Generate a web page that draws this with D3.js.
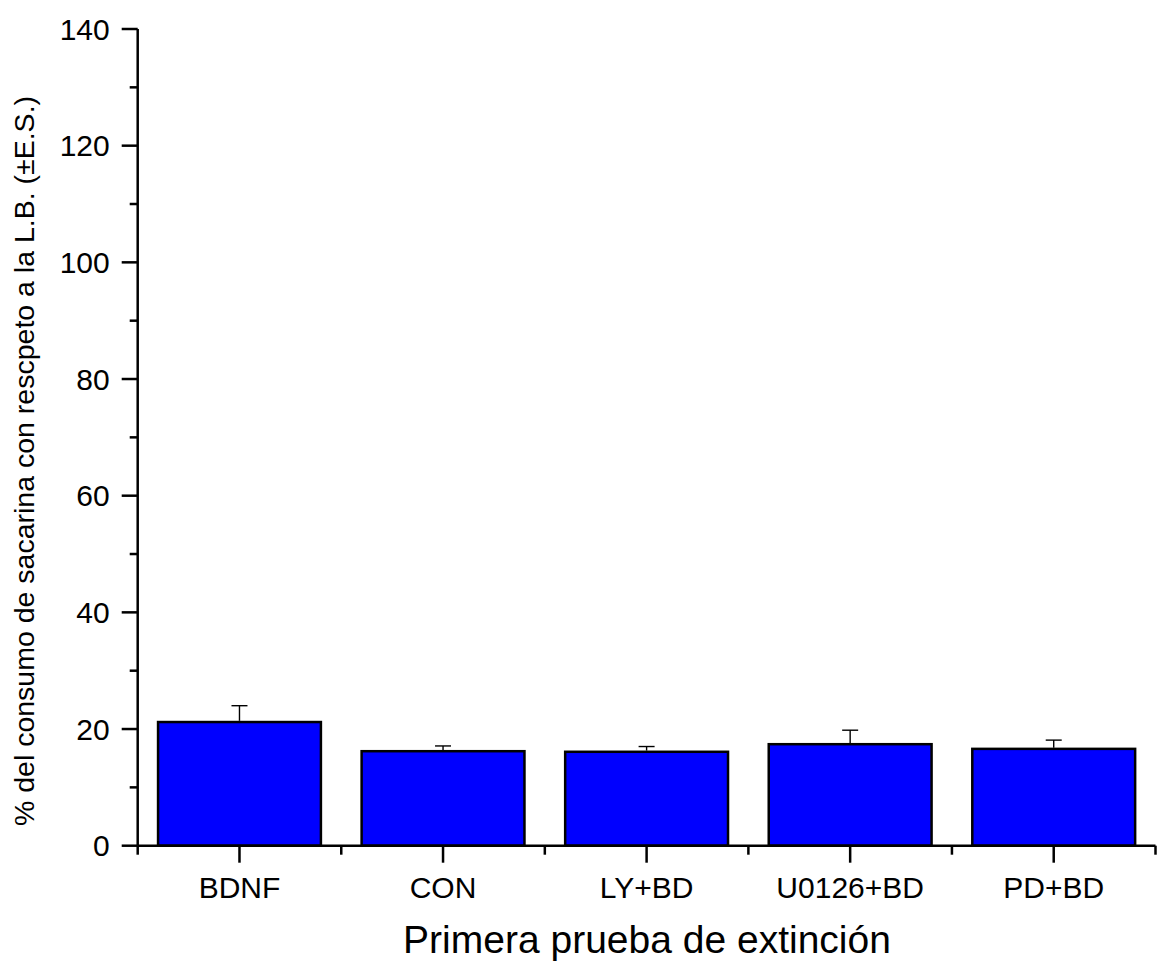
<!DOCTYPE html>
<html>
<head>
<meta charset="utf-8">
<script src="https://cdn.jsdelivr.net/npm/d3@7"></script>
<style>
  html, body { margin: 0; padding: 0; background: #fff; }
  svg { display: block; }
  text { font-family: "Liberation Sans", Arial, sans-serif; fill: #000; }
</style>
</head>
<body>
<svg id="chart" width="1157" height="970"></svg>
<script>
// Groups and their mean consumption (% of baseline) with standard errors
const groups = ["BDNF", "CON", "LY+BD", "U0126+BD", "PD+BD"];
const means  = [21.2, 16.2, 16.1, 17.4, 16.6];
const errors = [2.8, 0.9, 0.9, 2.4, 1.5];
const yTicks = [0, 20, 40, 60, 80, 100, 120, 140];
const yMinorTicks = [10, 30, 50, 70, 90, 110, 130];

const xTitle = "Primera prueba de extinción";
const yTitle = "% del consumo de sacarina con rescpeto a la L.B. (±E.S.)";

const svg = d3.select("#chart");
const plotLeft = 137.7, plotRight = 1155.5, plotTop = 29, plotBottom = 845.7;

const x = d3.scaleBand().domain(groups).range([plotLeft, plotRight])
  .paddingInner(0.2).paddingOuter(0.1);
const y = d3.scaleLinear().domain([0, 140]).range([plotBottom, plotTop]);

// Bars
svg.append("g").selectAll("rect")
  .data(groups)
  .join("rect")
  .attr("x", d => x(d))
  .attr("y", (d, i) => y(means[i]))
  .attr("width", x.bandwidth())
  .attr("height", (d, i) => y(0) - y(means[i]))
  .attr("fill", "#0000ff")
  .attr("stroke", "#000")
  .attr("stroke-width", 2.5);

// Upper error bars
const eb = svg.append("g").attr("stroke", "#000").attr("stroke-width", 1.4);
groups.forEach((g, i) => {
  const cx = x(g) + x.bandwidth() / 2;
  eb.append("line")
    .attr("x1", cx).attr("x2", cx)
    .attr("y1", y(means[i]) - 1.2).attr("y2", y(means[i] + errors[i]));
  eb.append("line")
    .attr("x1", cx - 8).attr("x2", cx + 8)
    .attr("y1", y(means[i] + errors[i])).attr("y2", y(means[i] + errors[i]));
});

// Y axis
const yAxis = svg.append("g");
yAxis.append("line")
  .attr("x1", plotLeft).attr("x2", plotLeft)
  .attr("y1", y(140)).attr("y2", y(0))
  .attr("stroke", "#000").attr("stroke-width", 2.5);
yAxis.selectAll(".major").data(yTicks).join("line")
  .attr("class", "major")
  .attr("x1", plotLeft - 16).attr("x2", plotLeft)
  .attr("y1", d => y(d)).attr("y2", d => y(d))
  .attr("stroke", "#000").attr("stroke-width", 2.5);
yAxis.selectAll(".minor").data(yMinorTicks).join("line")
  .attr("class", "minor")
  .attr("x1", plotLeft - 8).attr("x2", plotLeft)
  .attr("y1", d => y(d)).attr("y2", d => y(d))
  .attr("stroke", "#000").attr("stroke-width", 2.5);
yAxis.selectAll("text").data(yTicks).join("text")
  .attr("x", plotLeft - 28)
  .attr("y", d => y(d))
  .attr("dy", "0.35em")
  .attr("text-anchor", "end")
  .attr("font-size", 30)
  .text(d => d);

// X axis
const xAxis = svg.append("g");
xAxis.append("line")
  .attr("x1", plotLeft).attr("x2", plotRight)
  .attr("y1", plotBottom).attr("y2", plotBottom)
  .attr("stroke", "#000").attr("stroke-width", 2.5);
xAxis.selectAll(".major").data(groups).join("line")
  .attr("class", "major")
  .attr("x1", d => x(d) + x.bandwidth() / 2).attr("x2", d => x(d) + x.bandwidth() / 2)
  .attr("y1", plotBottom).attr("y2", plotBottom + 17)
  .attr("stroke", "#000").attr("stroke-width", 2.5);
const bounds = groups.map(g => x(g) - x.step() * x.paddingInner() / 2)
  .concat([plotRight]);
xAxis.selectAll(".minor").data(bounds).join("line")
  .attr("class", "minor")
  .attr("x1", d => d).attr("x2", d => d)
  .attr("y1", plotBottom).attr("y2", plotBottom + 9)
  .attr("stroke", "#000").attr("stroke-width", 2.5);
xAxis.selectAll("text").data(groups).join("text")
  .attr("x", d => x(d) + x.bandwidth() / 2)
  .attr("y", 898)
  .attr("text-anchor", "middle")
  .attr("font-size", 30)
  .text(d => d);

// Axis titles
svg.append("text")
  .attr("x", 647)
  .attr("y", 953)
  .attr("text-anchor", "middle")
  .attr("font-size", 39)
  .text(xTitle);

svg.append("text")
  .attr("transform", "translate(34,461) rotate(-90)")
  .attr("text-anchor", "middle")
  .attr("font-size", 28.5)
  .text(yTitle);
</script>
</body>
</html>
